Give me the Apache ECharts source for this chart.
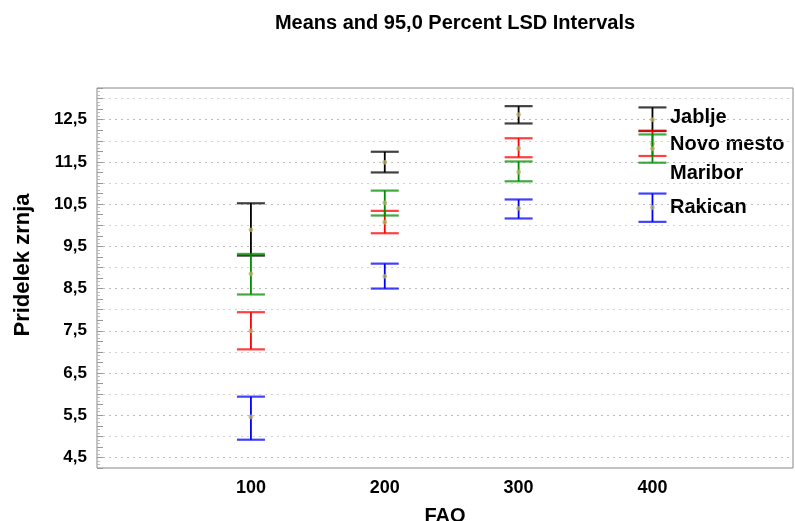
<!DOCTYPE html>
<html>
<head>
<meta charset="utf-8">
<script src="https://cdn.jsdelivr.net/npm/echarts@6/dist/echarts.min.js"></script>
<style>
  html, body { margin: 0; padding: 0; background: #fff; }
  #chart { width: 795px; height: 521px; }
</style>
</head>
<body>
<div id="chart"></div>
<script>
// FAO groups on the x axis
var fao = [100, 200, 300, 400];
var faoLabels = ['100', '200', '300', '400'];

// means and LSD interval ends
var jabljeMean = [9.89, 11.49, 12.62, 12.50];
var jabljeLow = [9.28, 11.25, 12.41, 12.23];
var jabljeHigh = [10.52, 11.74, 12.82, 12.79];

var novoMestoMean = [7.50, 10.07, 11.82, 11.93];
var novoMestoLow = [7.06, 9.81, 11.61, 11.64];
var novoMestoHigh = [7.94, 10.34, 12.06, 12.24];

var mariborMean = [8.85, 10.53, 11.26, 11.81];
var mariborLow = [8.36, 10.23, 11.04, 11.48];
var mariborHigh = [9.32, 10.82, 11.51, 12.15];

var rakicanMean = [5.46, 8.79, 10.40, 10.42];
var rakicanLow = [4.92, 8.50, 10.16, 10.08];
var rakicanHigh = [5.94, 9.09, 10.61, 10.75];

var seriesNames = ['Jablje', 'Novo mesto', 'Maribor', 'Rakican'];
var seriesColors = ['#000000', '#ff0000', '#008c00', '#0000ff'];

var FONT = '"Liberation Sans", Arial, sans-serif';

function errorBars(name, color, means, lows, highs) {
    return {
        type: 'custom',
        name: name,
        data: fao.map(function (x, i) { return [x, lows[i], highs[i], means[i]]; }),
        encode: { x: 0, y: [1, 2, 3] },
        renderItem: function (params, api) {
            var x = api.value(0);
            var lo = api.coord([x, api.value(1)]);
            var hi = api.coord([x, api.value(2)]);
            var mid = api.coord([x, api.value(3)]);
            var hw = 14;
            return {
                type: 'group',
                children: [
                    { type: 'line', shape: { x1: hi[0], y1: hi[1], x2: lo[0], y2: lo[1] },
                      style: { stroke: color, lineWidth: 1.8 } },
                    { type: 'line', shape: { x1: hi[0] - hw, y1: hi[1], x2: hi[0] + hw, y2: hi[1] },
                      style: { stroke: color, lineWidth: 2.2, opacity: 0.75 } },
                    { type: 'line', shape: { x1: lo[0] - hw, y1: lo[1], x2: lo[0] + hw, y2: lo[1] },
                      style: { stroke: color, lineWidth: 2.2, opacity: 0.75 } },
                    { type: 'circle', shape: { cx: mid[0], cy: mid[1], r: 2.4 },
                      style: { fill: '#b8b066', opacity: 0.8 } }
                ]
            };
        }
    };
}

var dom = document.getElementById('chart');
var myChart = echarts.init(dom);

var option = {
    animation: false,
    backgroundColor: '#fff',
    title: {
        text: 'Means and 95,0 Percent LSD Intervals',
        left: 450, top: 8, textAlign: 'center',
        textStyle: { fontFamily: FONT, fontSize: 20, fontWeight: 'bold', color: '#000' }
    },
    grid: {
        left: 97, right: 2, top: 88, bottom: 53,
        outerBoundsMode: 'none',
        show: true, borderColor: '#888', borderWidth: 1, backgroundColor: 'transparent'
    },
    xAxis: {
        type: 'value',
        min: -15, max: 505, interval: 5,
        name: 'FAO', nameLocation: 'middle', nameGap: 38,
        nameTextStyle: { fontFamily: FONT, fontSize: 20, fontWeight: 'bold', color: '#000' },
        axisLine: { show: false, onZero: false },
        axisTick: { show: false },
        splitLine: { show: false },
        axisLabel: {
            margin: 11, fontFamily: FONT, fontSize: 18, fontWeight: 'bold', color: '#000',
            showMinLabel: false, showMaxLabel: false,
            formatter: function (v) {
                var i = fao.indexOf(v);
                return i >= 0 ? faoLabels[i] : '';
            }
        }
    },
    yAxis: {
        type: 'value',
        min: 4.25, max: 13.25, interval: 0.25,
        name: 'Pridelek zrnja', nameLocation: 'middle', nameGap: 63,
        nameTextStyle: { fontFamily: FONT, fontSize: 22, fontWeight: 'bold', color: '#000',
                         padding: [0, 0, 0, 26] },
        axisLine: { show: false, onZero: false },
        axisTick: { show: true, inside: true, length: 6, lineStyle: { color: '#999' } },
        minorTick: { show: true, splitNumber: 3, length: 3, lineStyle: { color: '#bbb' } },
        splitLine: {
            show: true,
            lineStyle: { color: ['rgba(0,0,0,0)', '#bdbdbd', 'rgba(0,0,0,0)', '#d2d2d2'],
                         type: [2, 4], width: 1 }
        },
        axisLabel: {
            margin: 10, fontFamily: FONT, fontSize: 17, fontWeight: 'bold', color: '#000',
            formatter: function (v) {
                var r = Math.round(v * 100) / 100;
                if (Math.abs((r % 1) - 0.5) > 1e-6) return '';
                return r.toFixed(1).replace('.', ',');
            }
        }
    },
    graphic: seriesNames.map(function (n, i) {
        var tops = [107, 134, 163, 197];
        return {
            type: 'text', left: 670, top: tops[i],
            style: { text: n, fontFamily: FONT, fontSize: 20, fontWeight: 'bold', fill: '#000' }
        };
    }),
    series: [
        errorBars(seriesNames[0], seriesColors[0], jabljeMean, jabljeLow, jabljeHigh),
        errorBars(seriesNames[1], seriesColors[1], novoMestoMean, novoMestoLow, novoMestoHigh),
        errorBars(seriesNames[2], seriesColors[2], mariborMean, mariborLow, mariborHigh),
        errorBars(seriesNames[3], seriesColors[3], rakicanMean, rakicanLow, rakicanHigh)
    ]
};

myChart.setOption(option);
window.addEventListener('resize', function () { myChart.resize(); });
</script>
</body>
</html>
